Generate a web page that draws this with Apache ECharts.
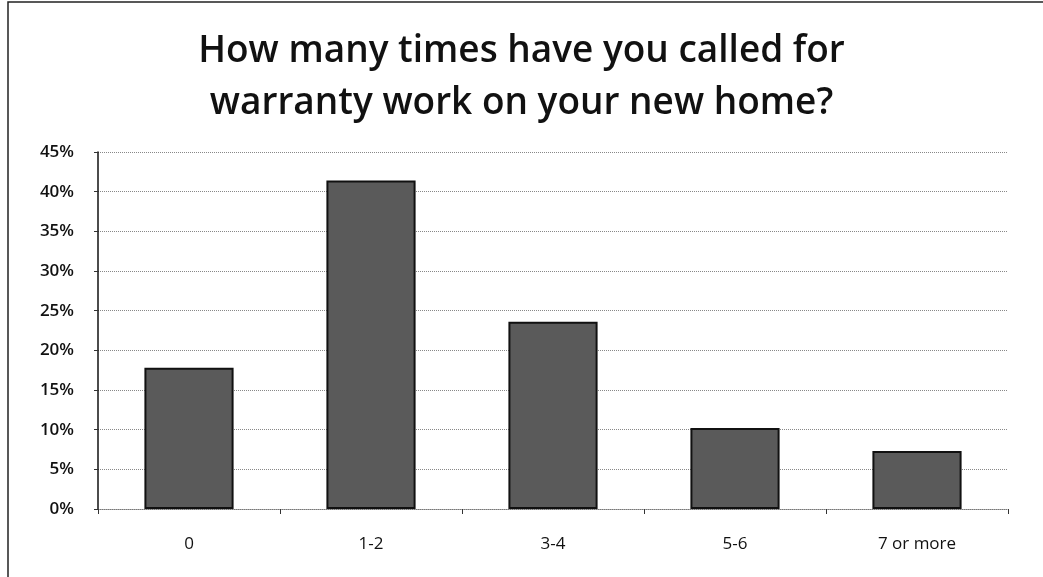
<!DOCTYPE html>
<html>
<head>
<meta charset="utf-8">
<script src="https://cdn.jsdelivr.net/npm/echarts@6/dist/echarts.min.js"></script>
<style>
  html, body { margin: 0; padding: 0; background: #fff; }
  #chart { width: 1043px; height: 577px; }
</style>
</head>
<body>
<div id="chart"></div>
<script>
// warranty call counts
var categories = ["0", "1-2", "3-4", "5-6", "7 or more"];
var percentValues = [17.8, 41.4, 23.6, 10.2, 7.3];
var titleText = "How many times have you called for\nwarranty work on your new home?";

var chart = echarts.init(document.getElementById("chart"));

var option = {
  animation: false,
  title: {
    text: titleText,
    left: "center",
    top: 20,
    textStyle: {
      fontFamily: "Open Sans",
      fontSize: 37,
      fontWeight: 600,
      color: "#111",
      lineHeight: 52
    }
  },
  graphic: [
    {
      type: "rect",
      shape: { x: 8, y: 2, width: 1040, height: 580 },
      style: { fill: "none", stroke: "#222", lineWidth: 1.5 }
    }
  ],
  grid: {
    left: 98,
    right: 35,
    top: 152,
    bottom: 68
  },
  xAxis: {
    type: "category",
    data: categories,
    axisLine: { show: true, lineStyle: { color: "#777", type: "dotted" } },
    axisTick: { show: true, length: 5, lineStyle: { color: "#333" } },
    axisLabel: {
      margin: 27,
      fontFamily: "Open Sans",
      fontSize: 17,
      color: "#111"
    }
  },
  yAxis: {
    type: "value",
    min: 0,
    max: 45,
    interval: 5,
    axisLine: { show: true, lineStyle: { color: "#111", width: 1.5 } },
    axisTick: { show: true, length: 4, lineStyle: { color: "#333" } },
    axisLabel: {
      margin: 24,
      fontFamily: "Open Sans",
      fontSize: 17,
      fontWeight: 600,
      color: "#111",
      formatter: "{value}%"
    },
    splitLine: {
      show: true,
      lineStyle: { color: "#888", type: "dotted", width: 1 }
    }
  },
  series: [
    {
      type: "bar",
      data: percentValues,
      barWidth: "49%",
      itemStyle: {
        color: "#5a5a5a",
        borderColor: "#111",
        borderWidth: 2
      }
    }
  ]
};

chart.setOption(option);
</script>
</body>
</html>
